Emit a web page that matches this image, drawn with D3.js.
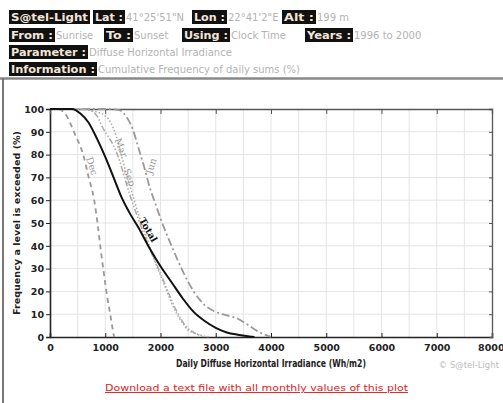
<!DOCTYPE html>
<html><head><meta charset="utf-8">
<script src="https://cdn.jsdelivr.net/npm/d3@7"></script>
<style>body{margin:0;background:#fff}svg{display:block}</style>
</head><body>
<script>
// ---- data ----
const xTicks = [0,1000,2000,3000,4000,5000,6000,7000,8000];
const yTicks = [0,10,20,30,40,50,60,70,80,90,100];
const totalX = [0,400,550,700,850,1000,1150,1300,1450,1600,1800,2000,2200,2400,2600,2800,3000,3200,3400,3700];
const totalY = [100,100,98,94,87,79,70,61,54,48,39,31,24,17,11,7,4,2,1,0];
const decX = [0,150,300,450,600,700,800,870,920,980,1040,1090,1130,1160];
const decY = [100,100,97,89,80,70,60,48,38,27,17,10,4,0];
const junX = [0,1000,1250,1400,1500,1600,1700,1800,1900,2000,2200,2400,2600,2800,3000,3200,3400,3600,3800,4000];
const junY = [100,100,99.5,96,91,83,75,66,59,52,40,29,20,14,11,9.5,8,5,2,0];
const marX = [0,600,800,1000,1100,1200,1300,1400,1500,1600,1700,1800,1900,2000,2100,2200,2300,2400,2500,2700,2900];
const marY = [100,100,99,97,94,88,79,70,62,54,47,40,33,27,21,15,10,6,3,1,0];
const sepX = [0,500,700,850,950,1050,1150,1250,1350,1450,1550,1700,1850,2000,2150,2300,2450,2600,2800];
const sepY = [100,100,99.5,97,92,88,84,78,70,62,55,45,36,28,19,11,5,2,0];
const seriesNames = ["Dec","Jun","Mar","Sep","Total"];
const header = [
  [["S@tel-Light",null],["Lat :","41°25'51\"N"],["Lon :","22°41'2\"E"],["Alt :","199 m"]],
  [["From :","Sunrise"],["To :","Sunset"],["Using :","Clock Time"],["Years :","1996 to 2000"]],
  [["Parameter :","Diffuse Horizontal Irradiance"]],
  [["Information :","Cumulative Frequency of daily sums (%)"]]
];
// ---- drawing ----
const W=503,H=403;
const svg=d3.select("body").append("svg").attr("width",W).attr("height",H);
const m={l:50,r:11,t:109,b:66};
const x=d3.scaleLinear().domain([0,8000]).range([m.l,W-m.r]);
const y=d3.scaleLinear().domain([0,100]).range([H-m.b,m.t]);

// header
const rowY=[10,28,45,62];
const boxX=[[9,93,192,282],[9,104,182,305],[9],[9]];
const boxW=[[81,32,35,34],[46,29,48,48],[79],[88]];
header.forEach((row,ri)=>{
  row.forEach((it,ci)=>{
    const bx=boxX[ri][ci], bw=boxW[ri][ci];
    svg.append("rect").attr("x",bx).attr("y",rowY[ri]).attr("width",bw).attr("height",14).attr("fill","#111");
    svg.append("text").attr("x",bx+2).attr("y",rowY[ri]+11).attr("font-family","DejaVu Sans").attr("font-weight","bold")
      .attr("font-size",11).attr("fill","#f3e6d8").attr("textLength",bw-4).attr("lengthAdjust","spacingAndGlyphs").text(it[0]);
    if(it[1]) svg.append("text").attr("x",bx+bw+1).attr("y",rowY[ri]+11).attr("font-family","DejaVu Sans")
      .attr("font-size",10).attr("fill","#b3b3b3").text(it[1]);
  });
});
// frame
svg.append("line").attr("x1",0).attr("x2",W).attr("y1",78.5).attr("y2",78.5).attr("stroke","#888").attr("stroke-width",2.5);
svg.append("line").attr("x1",3).attr("x2",3).attr("y1",78).attr("y2",H).attr("stroke","#777").attr("stroke-width",2);

// grid
const g=svg.append("g");
d3.range(500,8000,500).forEach(v=>g.append("line").attr("x1",x(v)).attr("x2",x(v)).attr("y1",y(0)).attr("y2",y(100)).attr("stroke","#e4e4e4"));
d3.range(10,100,10).forEach(v=>g.append("line").attr("x1",x(0)).attr("x2",x(8000)).attr("y1",y(v)).attr("y2",y(v)).attr("stroke","#e4e4e4"));

// axes
const axB=svg.append("g").attr("transform",`translate(0,${y(0)})`)
  .call(d3.axisBottom(x).tickValues(xTicks).tickFormat(d3.format("d")).tickSize(-4).tickPadding(7));
const axL=svg.append("g").attr("transform",`translate(${x(0)},0)`)
  .call(d3.axisLeft(y).tickValues(yTicks).tickSize(4).tickPadding(2));
const axT=svg.append("g").attr("transform",`translate(0,${y(100)})`)
  .call(d3.axisTop(x).tickValues(xTicks).tickSize(-5).tickFormat(""));
const axR=svg.append("g").attr("transform",`translate(${x(8000)},0)`)
  .call(d3.axisRight(y).tickValues(yTicks).tickSize(-3).tickFormat(""));
[axB,axL].forEach(a=>{a.selectAll("text").attr("font-family","DejaVu Sans").attr("font-weight","bold").attr("font-size",9.5).attr("fill","#222");
  a.select(".domain").attr("stroke","#222").attr("stroke-width",1.6);a.selectAll(".tick line").attr("stroke","#222");});
[axT,axR].forEach(a=>{a.select(".domain").attr("stroke","#555").attr("stroke-width",1.3);a.selectAll(".tick line").attr("stroke","#555");});
axL.selectAll("text").attr("dy","0.35em");
axB.selectAll(".tick text").filter(d=>d===8000).attr("text-anchor","end").attr("dx","12");

// series
const line=d3.line().x(d=>x(d[0])).y(d=>y(d[1])).curve(d3.curveMonotoneX);
const zip=(a,b)=>a.map((v,i)=>[v,b[i]]);
const data={Dec:zip(decX,decY),Jun:zip(junX,junY),Mar:zip(marX,marY),Sep:zip(sepX,sepY),Total:zip(totalX,totalY)};
const style={Dec:["#999","5,4",1.8],Jun:["#999","8,3,2,3",1.8],Mar:["#aaa","1.5,2",1.5],Sep:["#aaa","6,2,1.5,2,1.5,2",1.5],Total:["#111",null,2]};
seriesNames.forEach(n=>{
  svg.append("path").datum(data[n]).attr("d",line).attr("fill","none").attr("stroke",style[n][0])
    .attr("stroke-dasharray",style[n][1]).attr("stroke-width",style[n][2]);
});
// series labels
const labs=[["Dec",760,75,72,"#999",false],["Mar",1290,83,68,"#999",false],["Sep",1440,70,70,"#999",false],["Jun",1830,75,-72,"#999",false],["Total",1780,47,60,"#111",true]];
labs.forEach(l=>{
  svg.append("text").attr("transform",`translate(${x(l[1])},${y(l[2])}) rotate(${l[3]})`).attr("text-anchor","middle").attr("dy","0.35em")
    .attr("font-family","DejaVu Serif").attr("font-size",9.5).attr("font-weight",l[5]?"bold":"normal").attr("fill",l[4]).text(l[0]);
});

// axis titles
svg.append("text").attr("x",x(4000)).attr("y",367).attr("text-anchor","middle").attr("font-family","DejaVu Sans").attr("font-weight","bold")
  .attr("font-size",10).attr("fill","#222").attr("textLength",190).attr("lengthAdjust","spacingAndGlyphs").text("Daily Diffuse Horizontal Irradiance (Wh/m2)");
svg.append("text").attr("transform",`translate(20,${y(50)}) rotate(-90)`).attr("text-anchor","middle").attr("font-family","DejaVu Sans").attr("font-weight","bold")
  .attr("font-size",9.5).attr("fill","#222").attr("textLength",184).attr("lengthAdjust","spacingAndGlyphs").text("Frequency a level is exceeded (%)");
svg.append("text").attr("x",499).attr("y",368).attr("text-anchor","end").attr("font-family","DejaVu Sans").attr("font-size",8.5).attr("fill","#bbb").text("© S@tel-Light");
svg.append("text").attr("x",105).attr("y",391).attr("font-family","DejaVu Sans").attr("font-size",9.5).attr("fill","#d22")
  .attr("text-decoration","underline").attr("textLength",303).attr("lengthAdjust","spacingAndGlyphs").text("Download a text file with all monthly values of this plot");
</script>
</body></html>
